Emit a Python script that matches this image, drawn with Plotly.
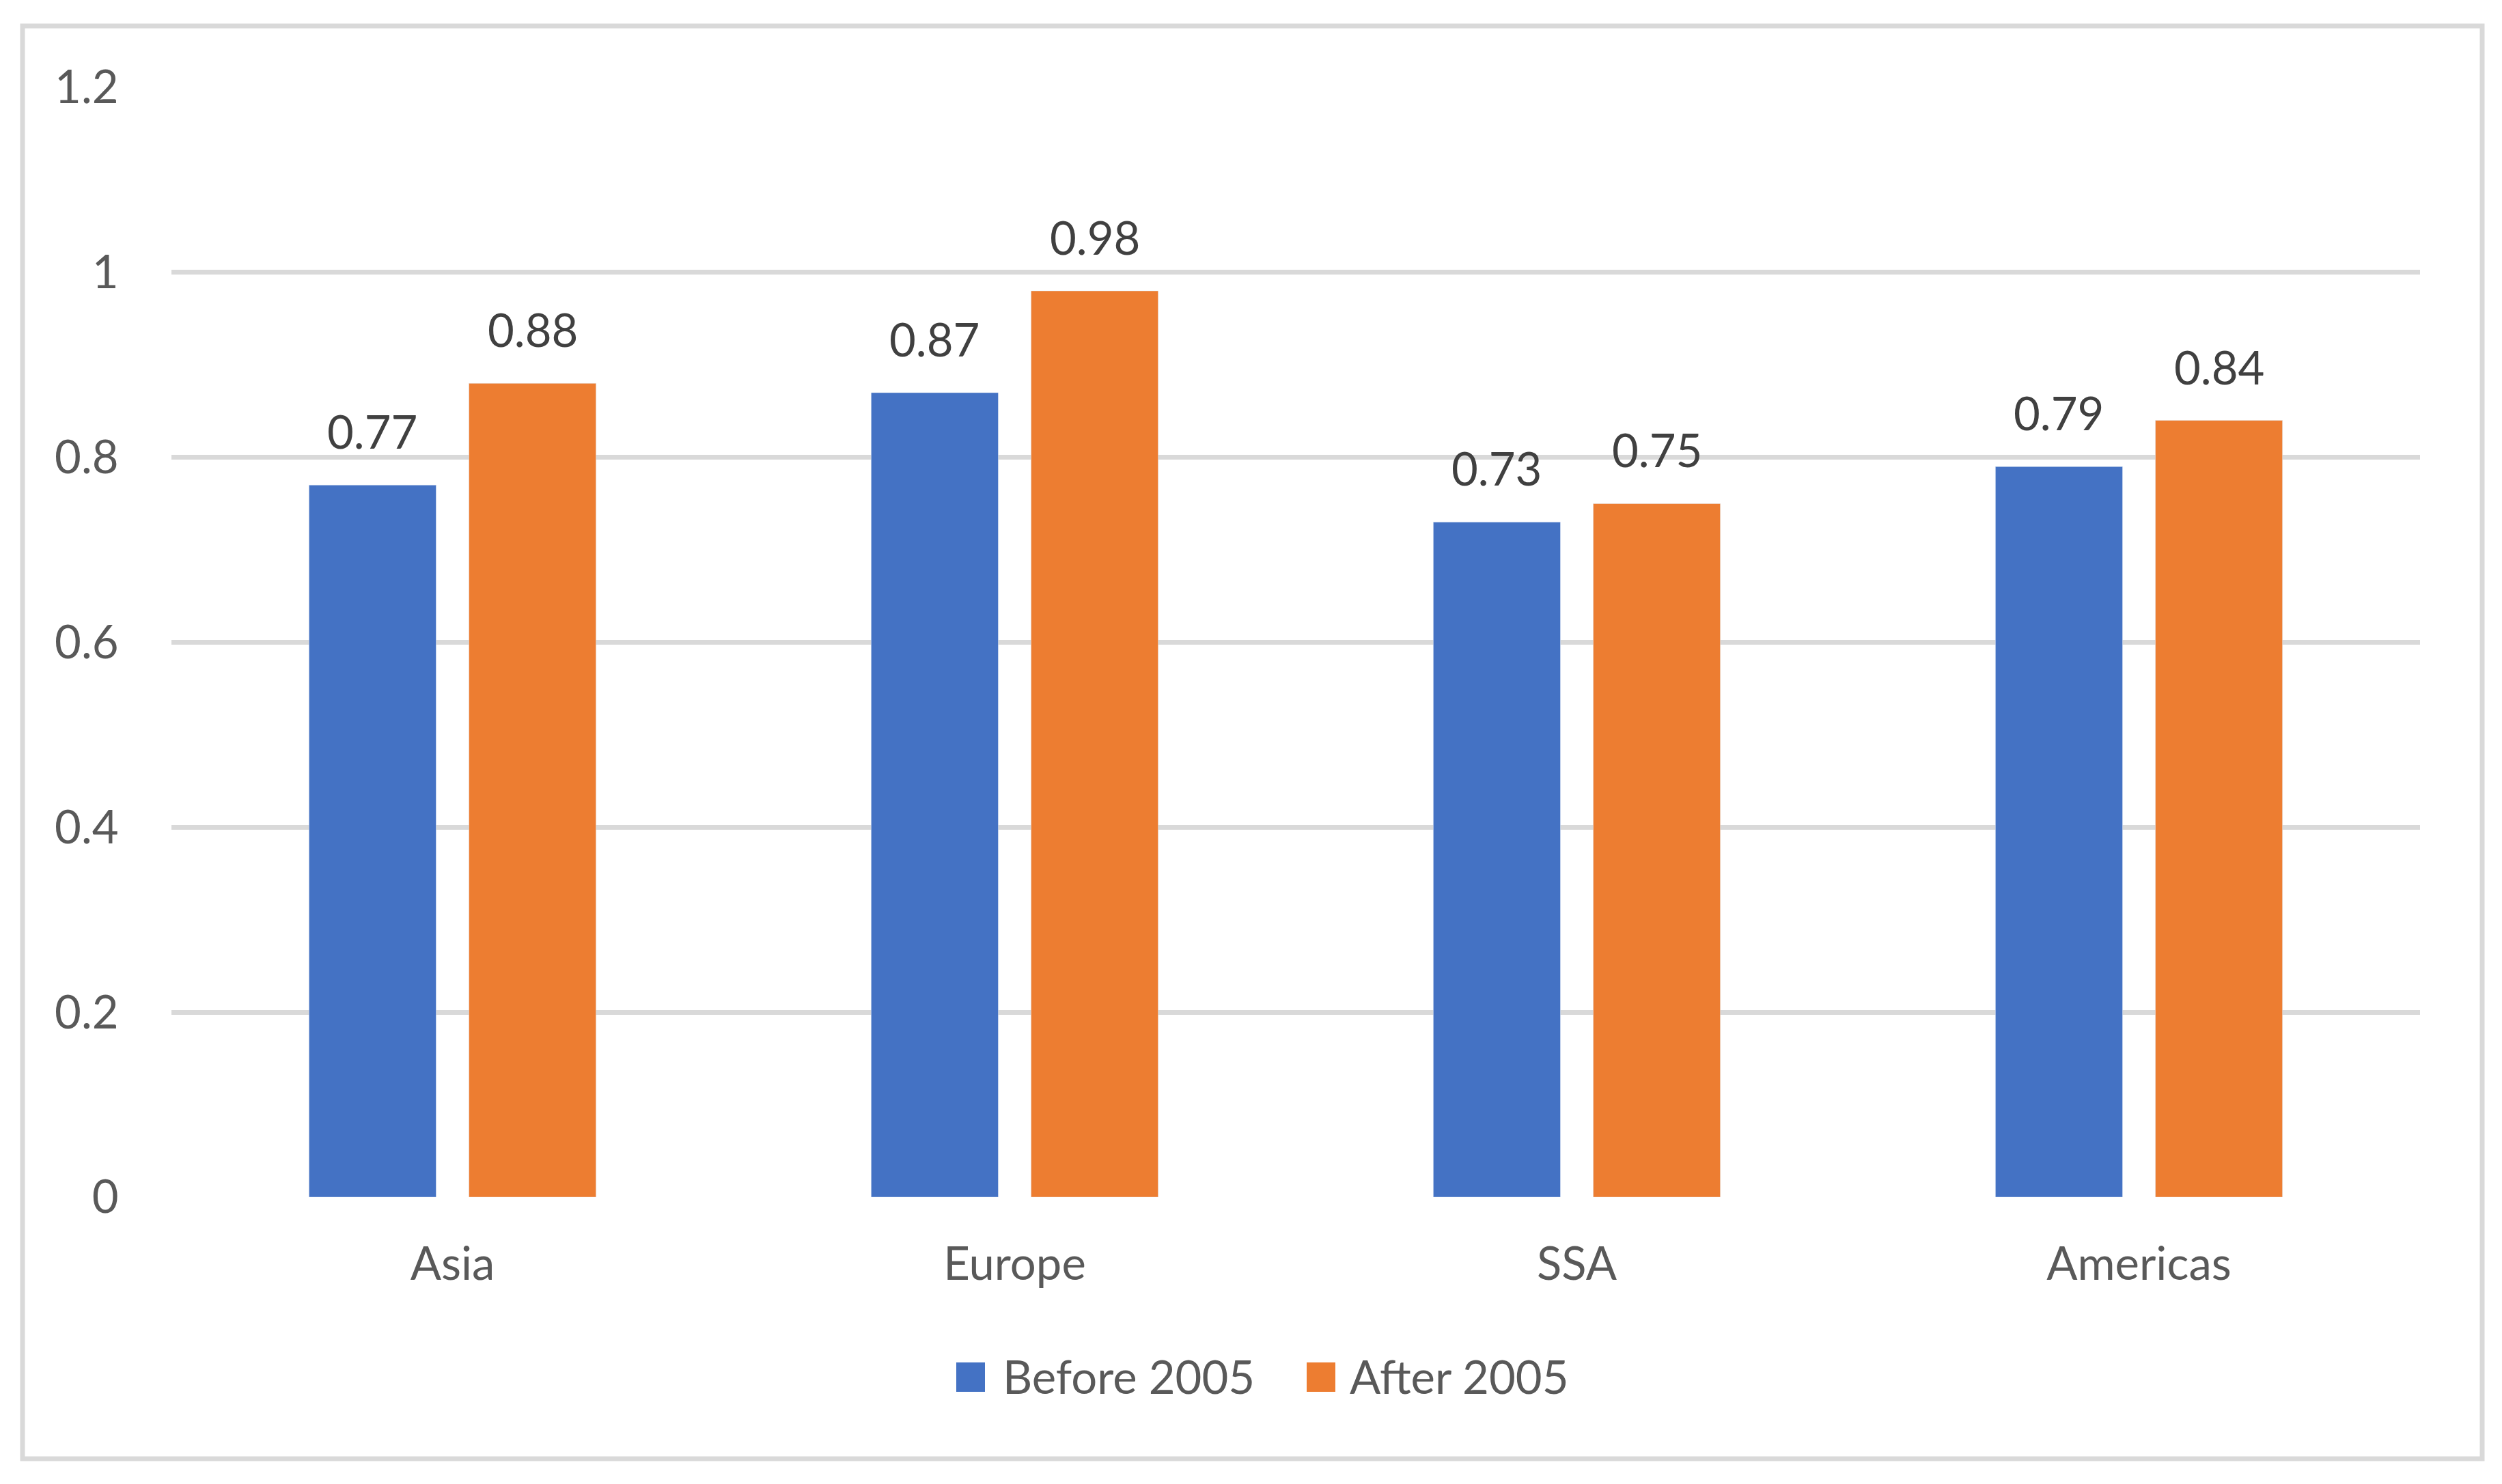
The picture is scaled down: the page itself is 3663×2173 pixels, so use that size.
import plotly.graph_objects as go

# data
regions = ["Asia", "Europe", "SSA", "Americas"]
before_2005 = [0.77, 0.87, 0.73, 0.79]
after_2005 = [0.88, 0.98, 0.75, 0.84]
series_names = ["Before 2005", "After 2005"]
y_ticks = [0, 0.2, 0.4, 0.6, 0.8, 1, 1.2]

BLUE = "#4472C4"
ORANGE = "#ED7D31"
GREY_TXT = "#595959"
LABEL_TXT = "#404040"
GRID = "#D9D9D9"
FONT = "Lato"
FS = 67

# page body has an 8px margin, so the figure is a bit smaller than the window
W, H = 3647, 2157
L, R, T, B = 243, 112, 120, 412
PW, PH = W - L - R, H - T - B


def px(x):  # pixel -> paper x
    return (x - L) / PW


def py(y):  # pixel -> paper y
    return (H - B - y) / PH


BARGAP, GROUPGAP = 0.431, 0.205

fig = go.Figure()
fig.add_trace(go.Bar(x=regions, y=before_2005, name=series_names[0],
                     marker_color=BLUE, showlegend=False))
fig.add_trace(go.Bar(x=regions, y=after_2005, name=series_names[1],
                     marker_color=ORANGE, showlegend=False))

# value labels above the bars
slot = PW / len(regions) * (1 - BARGAP) / 2
for vals, shift in [(before_2005, -slot / 2), (after_2005, slot / 2)]:
    for r, v in zip(regions, vals):
        fig.add_annotation(x=r, y=v, text=f"{v:.2f}", showarrow=False,
                           xshift=shift, yshift=79, yanchor="middle",
                           font=dict(family=FONT, size=FS, color=LABEL_TXT))

# legend drawn by hand so the swatches can be big
for col, name, sx, tx in [(BLUE, series_names[0], 1392, 1458),
                          (ORANGE, series_names[1], 1905, 1966)]:
    fig.add_shape(type="rect", xref="paper", yref="paper",
                  x0=px(sx), x1=px(sx + 42), y0=py(2030), y1=py(1987),
                  fillcolor=col, line_width=0)
    fig.add_annotation(xref="paper", yref="paper", x=px(tx), y=py(2007),
                       text=name, showarrow=False, xanchor="left", yanchor="middle",
                       font=dict(family=FONT, size=FS, color=GREY_TXT))

# outer chart border
fig.add_shape(type="rect", xref="paper", yref="paper",
              x0=px(25), x1=px(3626), y0=py(2128), y1=py(30),
              line=dict(color=GRID, width=7), fillcolor="rgba(0,0,0,0)", layer="below")

fig.update_layout(
    width=W, height=H,
    margin=dict(l=L, r=R, t=T, b=B, autoexpand=False),
    paper_bgcolor="white", plot_bgcolor="white",
    barmode="group", bargap=BARGAP, bargroupgap=GROUPGAP,
    font=dict(family=FONT, size=FS, color=GREY_TXT),
)
fig.update_xaxes(showgrid=False, showline=False, zeroline=False,
                 ticks="outside", ticklen=40, tickcolor="rgba(0,0,0,0)",
                 tickfont=dict(family=FONT, size=FS, color=GREY_TXT))
fig.update_yaxes(range=[0, 1.2], tickvals=y_ticks,
                 ticktext=[f"{t:g}" for t in y_ticks],
                 showgrid=True, gridcolor=GRID, gridwidth=7,
                 zeroline=False, showline=False,
                 ticks="outside", ticklen=63, tickcolor="rgba(0,0,0,0)",
                 tickfont=dict(family=FONT, size=FS, color=GREY_TXT))

fig.write_html("out.html")
